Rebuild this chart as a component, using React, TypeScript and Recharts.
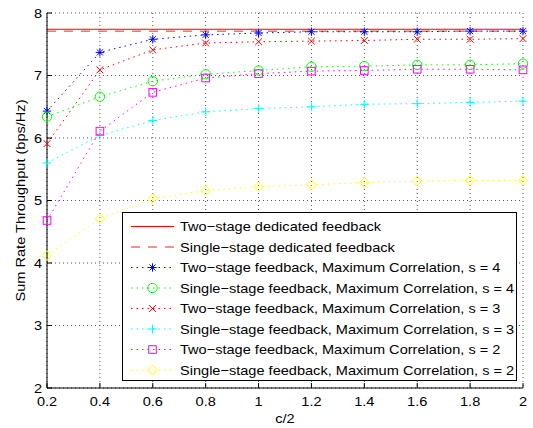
import React from 'react';
import { ComposedChart, Line, XAxis, YAxis, CartesianGrid, Legend } from 'recharts';

const FONT = '"Liberation Sans", Arial, Helvetica, sans-serif';
const SX = 1.12;

const xValues = [0.2, 0.4, 0.6, 0.8, 1.0, 1.2, 1.4, 1.6, 1.8, 2.0];
const yTicks = [2, 3, 4, 5, 6, 7, 8];

const twoStageDedicated = [7.74, 7.74, 7.74, 7.74, 7.74, 7.74, 7.74, 7.74, 7.74, 7.74];
const singleStageDedicated = [7.71, 7.71, 7.71, 7.71, 7.71, 7.71, 7.71, 7.71, 7.71, 7.71];
const twoStageS4 = [6.43, 7.37, 7.58, 7.65, 7.68, 7.70, 7.70, 7.70, 7.71, 7.71];
const singleStageS4 = [6.34, 6.66, 6.91, 7.02, 7.08, 7.14, 7.15, 7.17, 7.17, 7.19];
const twoStageS3 = [5.91, 7.09, 7.41, 7.52, 7.54, 7.55, 7.56, 7.58, 7.58, 7.59];
const singleStageS3 = [5.60, 6.04, 6.28, 6.42, 6.47, 6.50, 6.54, 6.55, 6.57, 6.59];
const twoStageS2 = [4.68, 6.11, 6.73, 6.96, 7.03, 7.07, 7.08, 7.10, 7.10, 7.09];
const singleStageS2 = [4.12, 4.71, 5.03, 5.16, 5.22, 5.25, 5.29, 5.31, 5.32, 5.32];

const xAxisTitle = 'c/2';
const yAxisTitle = 'Sum Rate Throughput (bps/Hz)';

const seriesNames = [
  'Two\u2212stage dedicated feedback',
  'Single\u2212stage dedicated feedback',
  'Two\u2212stage feedback, Maximum Correlation, s = 4',
  'Single\u2212stage feedback, Maximum Correlation, s = 4',
  'Two\u2212stage feedback, Maximum Correlation, s = 3',
  'Single\u2212stage feedback, Maximum Correlation, s = 3',
  'Two\u2212stage feedback, Maximum Correlation, s = 2',
  'Single\u2212stage feedback, Maximum Correlation, s = 2',
];

const DOT = '1.5 4';

const series = [
  { key: 'a', values: twoStageDedicated, color: '#ff0000', dash: undefined, marker: null },
  { key: 'b', values: singleStageDedicated, color: '#ff2020', dash: '9 8', marker: null },
  { key: 'c', values: twoStageS4, color: '#0000ff', dash: DOT, marker: 'star' },
  { key: 'd', values: singleStageS4, color: '#00ff00', dash: DOT, marker: 'circle' },
  { key: 'e', values: twoStageS3, color: '#ff0000', dash: DOT, marker: 'x' },
  { key: 'f', values: singleStageS3, color: '#00ffff', dash: DOT, marker: 'plus' },
  { key: 'g', values: twoStageS2, color: '#ff00ff', dash: DOT, marker: 'square' },
  { key: 'h', values: singleStageS2, color: '#ffff00', dash: DOT, marker: 'diamond' },
].map((s, i) => ({ ...s, name: seriesNames[i] }));

const data = xValues.map((x, i) => {
  const row: any = { x };
  series.forEach((s) => {
    row[s.key] = s.values[i];
  });
  return row;
});

function WideText({ x, y, anchor = 'start', dy, rotate = 0, children }: any) {
  return (
    <text
      transform={`translate(${x},${y}) rotate(${rotate}) scale(${SX},1)`}
      x={0}
      y={0}
      dy={dy}
      textAnchor={anchor}
      fontSize={13}
      fontFamily={FONT}
      fill="#000"
    >
      {children}
    </text>
  );
}

function Marker({ shape, cx, cy, color }: any) {
  const p = { stroke: color, strokeWidth: 1, fill: 'none' };
  if (cx == null || cy == null) return null;
  switch (shape) {
    case 'star': {
      const r = 4.2;
      const d = r * 0.72;
      return (
        <g {...p}>
          <line x1={cx - r} y1={cy} x2={cx + r} y2={cy} />
          <line x1={cx} y1={cy - r} x2={cx} y2={cy + r} />
          <line x1={cx - d} y1={cy - d} x2={cx + d} y2={cy + d} />
          <line x1={cx - d} y1={cy + d} x2={cx + d} y2={cy - d} />
        </g>
      );
    }
    case 'circle':
      return <circle cx={cx} cy={cy} r={4.7} {...p} />;
    case 'x': {
      const r = 3.4;
      return (
        <g {...p}>
          <line x1={cx - r} y1={cy - r} x2={cx + r} y2={cy + r} />
          <line x1={cx - r} y1={cy + r} x2={cx + r} y2={cy - r} />
        </g>
      );
    }
    case 'plus': {
      const r = 4.4;
      return (
        <g {...p}>
          <line x1={cx - r} y1={cy} x2={cx + r} y2={cy} />
          <line x1={cx} y1={cy - r} x2={cx} y2={cy + r} />
        </g>
      );
    }
    case 'square':
      return <rect x={cx - 3.8} y={cy - 3.8} width={7.6} height={7.6} {...p} />;
    case 'diamond':
      return (
        <polygon
          points={`${cx},${cy - 5} ${cx + 4.7},${cy} ${cx},${cy + 5} ${cx - 4.7},${cy}`}
          {...p}
        />
      );
    default:
      return null;
  }
}

const TICK = 5;

const BottomTick = (props: any) => {
  const { x, y, payload } = props;
  return (
    <g>
      <line x1={x} x2={x} y1={y - 9} y2={y - 9 - TICK} stroke="#000" />
      <WideText x={x} y={y} dy="0.71em" anchor="middle">
        {String(payload.value)}
      </WideText>
    </g>
  );
};

const TopTick = (props: any) => {
  const { x, y } = props;
  return <line x1={x} x2={x} y1={y} y2={y + TICK} stroke="#000" />;
};

const LeftTick = (props: any) => {
  const { x, y, payload } = props;
  return (
    <g>
      <line x1={x + 5} x2={x + 5 + TICK} y1={y} y2={y} stroke="#000" />
      <WideText x={x} y={y} dy="0.355em" anchor="end">
        {String(payload.value)}
      </WideText>
    </g>
  );
};

const RightTick = (props: any) => {
  const { x, y } = props;
  return <line x1={x} x2={x - TICK} y1={y} y2={y} stroke="#000" />;
};

const XTitle = (props: any) => {
  const vb = props.viewBox || {};
  return (
    <WideText x={vb.x + vb.width / 2} y={vb.y + vb.height - 5} anchor="middle">
      {xAxisTitle}
    </WideText>
  );
};

const YTitle = (props: any) => {
  const vb = props.viewBox || {};
  return (
    <WideText x={vb.x + 20} y={vb.y + vb.height / 2} dy="0.355em" anchor="middle" rotate={-90}>
      {yAxisTitle}
    </WideText>
  );
};

const LegendBox = () => (
  <svg width={395} height={169} style={{ display: 'block' }}>
    <rect x={0.5} y={0.5} width={394} height={168} fill="#fff" stroke="#000" />
    {series.map((s, i) => {
      const cy = 14.5 + i * 20.5;
      return (
        <g key={s.key}>
          <line x1={9} x2={52} y1={cy} y2={cy} stroke={s.color} strokeDasharray={s.dash} />
          {s.marker ? <Marker shape={s.marker} cx={30.5} cy={cy} color={s.color} /> : null}
          <WideText x={58} y={cy} dy="0.355em">
            {s.name}
          </WideText>
        </g>
      );
    })}
  </svg>
);

export default function App() {
  return (
    <div style={{ position: 'absolute', left: 0, top: 0, width: 533, height: 428, background: '#fff' }}>
      <ComposedChart width={533} height={428} data={data} margin={{ top: 13, right: 10, bottom: 0, left: 0 }}>
        <CartesianGrid stroke="#555" strokeDasharray="1 3" />
        <XAxis
          dataKey="x"
          type="number"
          domain={[0.2, 2]}
          ticks={xValues}
          interval={0}
          height={40}
          tickSize={0}
          tickMargin={9}
          tickLine={false}
          tick={<BottomTick />}
          axisLine={{ stroke: '#000' }}
          label={XTitle}
        />
        <XAxis
          xAxisId="top"
          orientation="top"
          dataKey="x"
          type="number"
          domain={[0.2, 2]}
          ticks={xValues}
          interval={0}
          height={0}
          tickSize={0}
          tickMargin={0}
          tickLine={false}
          tick={<TopTick />}
          axisLine={{ stroke: '#000' }}
        />
        <YAxis
          type="number"
          domain={[2, 8]}
          ticks={yTicks}
          interval={0}
          width={47}
          tickSize={0}
          tickMargin={5}
          tickLine={false}
          tick={<LeftTick />}
          axisLine={{ stroke: '#000' }}
          label={YTitle}
        />
        <YAxis
          yAxisId="right"
          orientation="right"
          type="number"
          domain={[2, 8]}
          ticks={yTicks}
          interval={0}
          width={0}
          tickSize={0}
          tickMargin={0}
          tickLine={false}
          tick={<RightTick />}
          axisLine={{ stroke: '#000' }}
        />
        {series.map((s) => (
          <Line
            key={s.key}
            dataKey={s.key}
            name={s.name}
            type="linear"
            stroke={s.color}
            strokeWidth={1}
            strokeDasharray={s.dash}
            isAnimationActive={false}
            activeDot={false}
            dot={
              s.marker
                ? (p: any) => <Marker key={`${s.key}-${p.index}`} shape={s.marker} cx={p.cx} cy={p.cy} color={s.color} />
                : false
            }
          />
        ))}
        <Legend
          layout="vertical"
          align="center"
          verticalAlign="middle"
          content={<LegendBox />}
          wrapperStyle={{ left: 122, top: 212, width: 395, height: 169 }}
        />
      </ComposedChart>
    </div>
  );
}
